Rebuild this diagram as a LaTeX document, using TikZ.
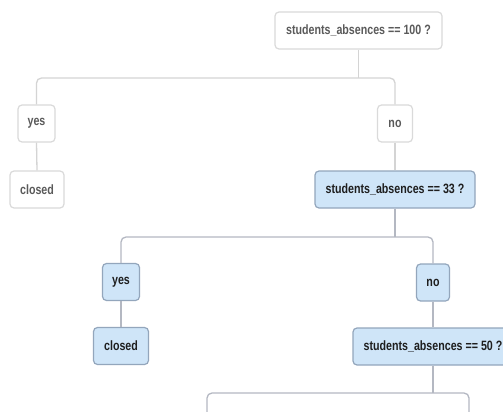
\documentclass[tikz,border=0pt]{standalone}
\usepackage{fontspec}
\setmainfont{Liberation Sans}[FakeStretch=0.83]
\newfontfamily\boldnarrow{Liberation Sans Bold}[FakeStretch=0.79]
\definecolor{wborder}{HTML}{DADADA}
\definecolor{wtext}{HTML}{5A5A5A}
\definecolor{bfill}{HTML}{CFE5F8}
\definecolor{bborder}{HTML}{93A6BC}
\definecolor{btext}{HTML}{1E1E1E}
\definecolor{lineA}{HTML}{D4D4D4}
\definecolor{lineB}{HTML}{B4B8C2}
\begin{document}
\begin{tikzpicture}[x=1pt,y=-1pt,
  wbox/.style={draw=wborder,line width=1.2pt,fill=white,rounded corners=4pt,
    minimum height=37pt,inner sep=0pt,text=wtext,
    font=\boldnarrow\fontsize{13.5}{15}\selectfont},
  bbox/.style={draw=bborder,line width=1.2pt,fill=bfill,rounded corners=4pt,
    minimum height=37pt,inner sep=0pt,text=btext,
    font=\boldnarrow\fontsize{13.5}{15}\selectfont},
  connA/.style={draw=lineA,line width=1.3pt,rounded corners=5pt},
  connB/.style={draw=lineB,line width=1.3pt,rounded corners=5pt}]
\useasboundingbox (0,0) rectangle (503,412);
\clip (0,0) rectangle (503,412);
\fill[white] (0,0) rectangle (503,412);

% bars
\coordinate (bar1) at (0,78);
\coordinate (bar2) at (0,237);
\coordinate (bar3) at (0,393);
\coordinate (l3) at (207,430);
\coordinate (r3) at (469,430);

% nodes
\node[wbox,minimum width=167pt] (q100) at (358.5,30.5) {students\_absences == 100 ?};
\node[wbox,minimum width=37pt] (yes1) at (36.5,123.5) {yes};
\node[wbox,minimum width=54pt] (closed1) at (37,189.5) {closed};
\node[wbox,minimum width=35pt] (no1) at (395,123.5) {no};
\node[bbox,minimum width=160pt] (q33) at (395,189.5) {students\_absences == 33 ?};
\node[bbox,minimum width=37pt] (yes2) at (121,282) {yes};
\node[bbox,minimum width=55pt] (closed2) at (121,346) {closed};
\node[bbox,minimum width=33pt] (no2) at (433,282.5) {no};
\node[bbox,minimum width=160pt] (q50) at (433,346.5) {students\_absences == 50 ?};

% connectors (upper, light)
\path[connA] (q100.south) -- (q100.south |- bar1);
\path[connA] (yes1.north) -- (yes1.north |- bar1) -- (no1.north |- bar1) -- (no1.north);
\path[connA] (yes1.south) -- (closed1.north);
\path[connA] (no1.south) -- (q33.north);
% lower
\path[connB] (q33.south) -- (q33.south |- bar2);
\path[connB] (yes2.north) -- (yes2.north |- bar2) -- (no2.north |- bar2) -- (no2.north);
\path[connB] (yes2.south) -- (closed2.north);
\path[connB] (no2.south) -- (q50.north);
\path[connB] (q50.south) -- (q50.south |- bar3);
\path[connB] (l3) -- (l3 |- bar3) -- (r3 |- bar3) -- (r3);
\end{tikzpicture}
\end{document}
